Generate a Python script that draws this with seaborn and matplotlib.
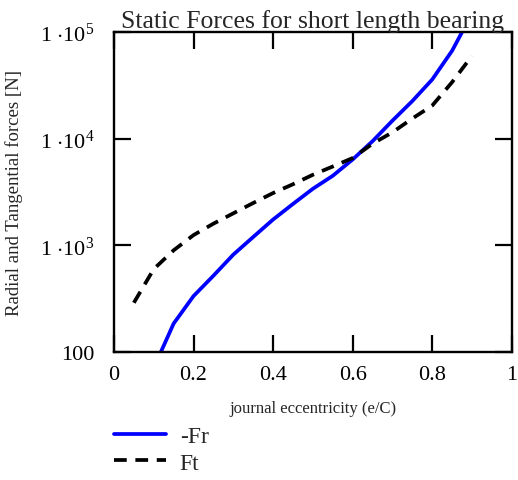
import matplotlib
matplotlib.use("Agg")
import matplotlib.pyplot as plt
import seaborn as sns
import pandas as pd
from matplotlib.ticker import FixedLocator, FixedFormatter, NullLocator

# data
ecc_fr = [0.10, 0.15, 0.20, 0.25, 0.30, 0.35, 0.40, 0.45, 0.50, 0.55, 0.60, 0.65, 0.70, 0.75, 0.80, 0.85, 0.90]
fr = [71, 185, 335, 520, 820, 1200, 1750, 2450, 3400, 4500, 6400, 9500, 14800, 22600, 36000, 67000, 150000]
ecc_ft = [0.05, 0.10, 0.15, 0.20, 0.25, 0.30, 0.35, 0.40, 0.45, 0.50, 0.55, 0.60, 0.65, 0.70, 0.75, 0.80, 0.85, 0.90]
ft = [290, 600, 900, 1250, 1600, 2000, 2500, 3100, 3750, 4600, 5500, 6600, 9000, 11500, 15500, 20500, 34000, 60000]
xticks = [0, 0.2, 0.4, 0.6, 0.8, 1]
xticklabels = ["0", "0.2", "0.4", "0.6", "0.8", "1"]
yticks = [100, 1e3, 1e4, 1e5]
yticklabels = ["100", r"1 $\cdot$10$^{3}$", r"1 $\cdot$10$^{4}$", r"1 $\cdot$10$^{5}$"]

sns.set_style("ticks")
plt.rcParams['font.family'] = ['Liberation Serif', 'DejaVu Serif']
plt.rcParams['mathtext.fontset'] = 'custom'
plt.rcParams['mathtext.rm'] = 'Liberation Serif'
plt.rcParams['mathtext.it'] = 'Liberation Serif:italic'

df_fr = pd.DataFrame({"e": ecc_fr, "F": fr})
df_ft = pd.DataFrame({"e": ecc_ft, "F": ft})

fig = plt.figure(figsize=(5.18, 4.81), dpi=100)
ax = fig.add_axes([0.220, 0.266, 0.768, 0.665])

sns.lineplot(data=df_fr, x="e", y="F", ax=ax, color="#0000ff", linewidth=2.7, label="-Fr")
sns.lineplot(data=df_ft, x="e", y="F", ax=ax, color="black", linewidth=2.7, label="Ft")
ax.lines[1].set_dashes([3.4, 2.3])

ax.set_yscale("log")
ax.set_xlim(0, 1)
ax.set_ylim(100, 1e5)
ax.xaxis.set_major_locator(FixedLocator(xticks))
ax.xaxis.set_major_formatter(FixedFormatter(xticklabels))
ax.yaxis.set_major_locator(FixedLocator(yticks))
ax.yaxis.set_major_formatter(FixedFormatter(yticklabels))
ax.yaxis.set_minor_locator(NullLocator())
ax.xaxis.set_minor_locator(NullLocator())
ax.tick_params(direction="in", length=12, width=1.6, top=True, right=True,
               labelsize=16, colors="black")
ax.tick_params(axis="x", pad=9)
ax.tick_params(axis="y", pad=14)
for s in ax.spines.values():
    s.set_linewidth(1.7)
    s.set_color("black")

ax.set_title("Static Forces for short length bearing", fontsize=18.5, pad=4)
ax.set_xlabel("journal eccentricity (e/C)", fontsize=12, labelpad=12)
ax.set_ylabel("Radial and Tangential forces [N]", fontsize=13.5, labelpad=12)

ax.get_legend().remove()
h, l = ax.get_legend_handles_labels()
fig.legend(h, l, loc="upper left", bbox_to_anchor=(0.201, 0.132), frameon=False,
           fontsize=17, handlelength=2.2, handletextpad=0.6, labelspacing=0.2,
           borderaxespad=0)

fig.savefig("out.png", dpi=100)
